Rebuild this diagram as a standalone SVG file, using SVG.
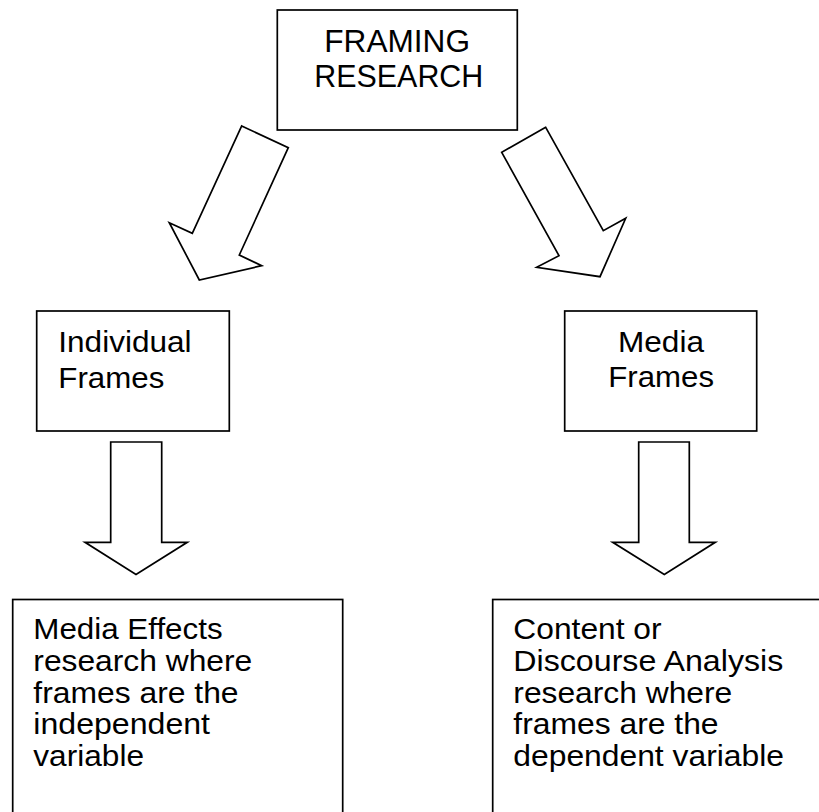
<svg xmlns="http://www.w3.org/2000/svg" width="819" height="812" viewBox="0 0 819 812">
<style>
.box{fill:#fff;stroke:#000;stroke-width:1.7}
.arr{fill:#fff;stroke:#000;stroke-width:1.7;stroke-linejoin:miter}
text{font-family:"Liberation Sans",Arial,sans-serif;fill:#000}
.t1{font-size:30.5px}
.t2{font-size:30.3px}
.t3{font-size:29px}
</style>
<rect width="819" height="812" fill="#fff"/>
<g id="connectors">
<polygon class="arr" points="241.7,126 288.3,147.7 239.3,255 261.7,265.7 199.3,280 169.3,222.7 192.3,233.3"/>
<polygon class="arr" points="545.7,127.3 501.7,152.3 559,255.7 536.7,267.3 600,276.7 625.7,218.3 603.3,230.7"/>
<polygon class="arr" points="110.7,442 161.7,442 161.7,542.3 187.3,542.3 136,574.5 85,542.3 110.7,542.3"/>
<polygon class="arr" points="638.7,442 689.3,442 689.3,542.3 715.3,542.3 664.3,574.5 612.7,542.3 638.7,542.3"/>
</g>
<g id="framing-research">
<rect class="box" x="277.3" y="10" width="240" height="120"/>
<text class="t1" x="324.3" y="52" textLength="145.7" lengthAdjust="spacingAndGlyphs">FRAMING</text>
<text class="t1" x="314.3" y="87.3" textLength="169" lengthAdjust="spacingAndGlyphs">RESEARCH</text>
</g>
<g id="individual-frames">
<rect class="box" x="36.7" y="311" width="192.6" height="120"/>
<text class="t2" x="58.3" y="352.3" textLength="133.3" lengthAdjust="spacingAndGlyphs">Individual</text>
<text class="t2" x="58.3" y="387.7" textLength="106" lengthAdjust="spacingAndGlyphs">Frames</text>
</g>
<g id="media-frames">
<rect class="box" x="564.7" y="311" width="192" height="120"/>
<text class="t2" x="618" y="351.7" textLength="86" lengthAdjust="spacingAndGlyphs">Media</text>
<text class="t2" x="608.3" y="387.3" textLength="105.7" lengthAdjust="spacingAndGlyphs">Frames</text>
</g>
<g id="media-effects">
<rect class="box" x="12.7" y="599.5" width="330" height="240"/>
<text class="t3" x="33.3" y="639.3" textLength="189.3" lengthAdjust="spacingAndGlyphs">Media Effects</text>
<text class="t3" x="33.3" y="671" textLength="219" lengthAdjust="spacingAndGlyphs">research where</text>
<text class="t3" x="33.3" y="702.7" textLength="205.3" lengthAdjust="spacingAndGlyphs">frames are the</text>
<text class="t3" x="33.3" y="734.3" textLength="176.7" lengthAdjust="spacingAndGlyphs">independent</text>
<text class="t3" x="33.3" y="766" textLength="110.7" lengthAdjust="spacingAndGlyphs">variable</text>
</g>
<g id="content-discourse">
<rect class="box" x="492.7" y="599.5" width="340" height="240"/>
<text class="t3" x="513.3" y="639.3" textLength="148.3" lengthAdjust="spacingAndGlyphs">Content or</text>
<text class="t3" x="513.3" y="671" textLength="270" lengthAdjust="spacingAndGlyphs">Discourse Analysis</text>
<text class="t3" x="513.3" y="702.7" textLength="219" lengthAdjust="spacingAndGlyphs">research where</text>
<text class="t3" x="513.3" y="734.3" textLength="205.3" lengthAdjust="spacingAndGlyphs">frames are the</text>
<text class="t3" x="513.3" y="766" textLength="270.7" lengthAdjust="spacingAndGlyphs">dependent variable</text>
</g>
</svg>
